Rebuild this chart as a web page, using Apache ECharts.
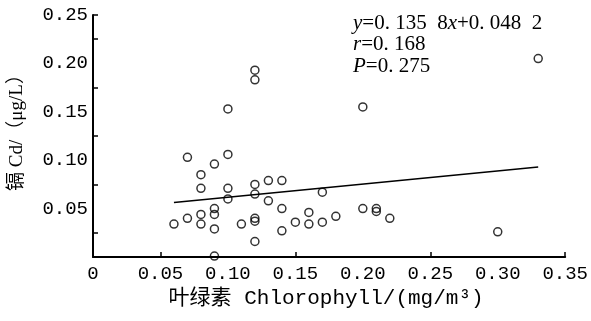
<!DOCTYPE html>
<html>
<head>
<meta charset="utf-8">
<script src="https://cdn.jsdelivr.net/npm/echarts@6/dist/echarts.min.js"></script>
<style>
  html, body { margin: 0; padding: 0; background: #fff; }
  #chart { width: 591px; height: 321px; }
</style>
</head>
<body>
<div id="chart"></div>
<script>
// Chlorophyll (mg/m³) and cadmium (μg/L) per sampling site
const chlorophyll = [
  0.06, 0.07, 0.07, 0.08, 0.08, 0.08, 0.08, 0.09, 0.09, 0.09,
  0.09, 0.09, 0.10, 0.10, 0.10, 0.10, 0.11, 0.12, 0.12, 0.12,
  0.12, 0.12, 0.12, 0.12, 0.13, 0.13, 0.14, 0.14, 0.14, 0.15,
  0.16, 0.16, 0.17, 0.17, 0.18, 0.20, 0.20, 0.21, 0.21, 0.22,
  0.30, 0.33
];
const cadmium = [
  0.034, 0.103, 0.040, 0.085, 0.071, 0.044, 0.034, 0.096, 0.050, 0.044,
  0.029, 0.001, 0.153, 0.106, 0.071, 0.060, 0.034, 0.193, 0.183, 0.075,
  0.065, 0.040, 0.037, 0.016, 0.079, 0.058, 0.079, 0.050, 0.027, 0.036,
  0.046, 0.034, 0.067, 0.036, 0.042, 0.155, 0.050, 0.050, 0.047, 0.040,
  0.026, 0.205
];

// Linear fit y = slope·x + intercept over the observed chlorophyll range
const slope = 0.1358;
const intercept = 0.0482;
const fitRange = [0.06, 0.33];

// Axis ticks (drawn between labelled values, pointing inward)
const xTicks = [0.05, 0.15, 0.25, 0.35];
const yTicks = [0.025, 0.075, 0.125, 0.175, 0.225, 0.25];

const points = chlorophyll.map((x, i) => [x, cadmium[i]]);
const fitLine = fitRange.map(x => [x, slope * x + intercept]);

const monoFont = '"Liberation Mono", "Noto Sans CJK SC", monospace';
const serifFont = '"Liberation Serif", "Noto Sans CJK SC", serif';

const chart = echarts.init(document.getElementById('chart'), null, { renderer: 'canvas' });

const annoRich = {
  i: { fontFamily: serifFont, fontStyle: 'italic', fontSize: 21, color: '#000' },
  n: { fontFamily: serifFont, fontSize: 21, color: '#000' }
};

chart.setOption({
  backgroundColor: '#fff',
  animation: false,
  grid: { left: 93, right: 19, top: 15, bottom: 64 },
  xAxis: {
    type: 'value',
    min: 0, max: 0.35, interval: 0.05,
    name: '叶绿素 Chlorophyll/(mg/m³)',
    nameLocation: 'middle',
    nameGap: 31,
    nameTextStyle: { fontFamily: monoFont, fontSize: 21, color: '#000', padding: [0, 6, 0, 0] },
    axisLine: { show: true, onZero: false, lineStyle: { color: '#000', width: 2 } },
    axisTick: { show: true, inside: true, length: 5, customValues: xTicks, lineStyle: { color: '#000', width: 1.5 } },
    axisLabel: {
      margin: 7,
      fontFamily: monoFont, fontSize: 19, color: '#000',
      formatter: v => v === 0 ? '0' : v.toFixed(2)
    },
    splitLine: { show: false }
  },
  yAxis: {
    type: 'value',
    min: 0, max: 0.25, interval: 0.05,
    name: '镉 Cd/（μg/L）',
    nameLocation: 'middle',
    nameGap: 66,
    nameTextStyle: { fontFamily: serifFont, fontSize: 19, color: '#000', padding: [0, 0, 0, 16] },
    axisLine: { show: true, onZero: false, lineStyle: { color: '#000', width: 2 } },
    axisTick: { show: true, inside: true, length: 5, customValues: yTicks, lineStyle: { color: '#000', width: 1.5 } },
    axisLabel: {
      margin: 5,
      fontFamily: monoFont, fontSize: 19, color: '#000',
      formatter: v => v === 0 ? '' : v.toFixed(2)
    },
    splitLine: { show: false }
  },
  graphic: [
    { type: 'text', left: 353, top: 12.5, style: { text: '{i|y}{n|=0. 135  8}{i|x}{n|+0. 048  2}', rich: annoRich } },
    { type: 'text', left: 353, top: 34, style: { text: '{i|r}{n|=0. 168}', rich: annoRich } },
    { type: 'text', left: 353, top: 55.5, style: { text: '{i|P}{n|=0. 275}', rich: annoRich } }
  ],
  series: [
    {
      type: 'line',
      data: fitLine,
      symbol: 'none',
      lineStyle: { color: '#000', width: 1.5 },
      z: 2
    },
    {
      type: 'scatter',
      data: points,
      symbol: 'circle',
      symbolSize: 8,
      itemStyle: { color: 'rgba(255,255,255,0)', borderColor: '#000', borderWidth: 1.5 },
      z: 3
    }
  ]
});
</script>
</body>
</html>
